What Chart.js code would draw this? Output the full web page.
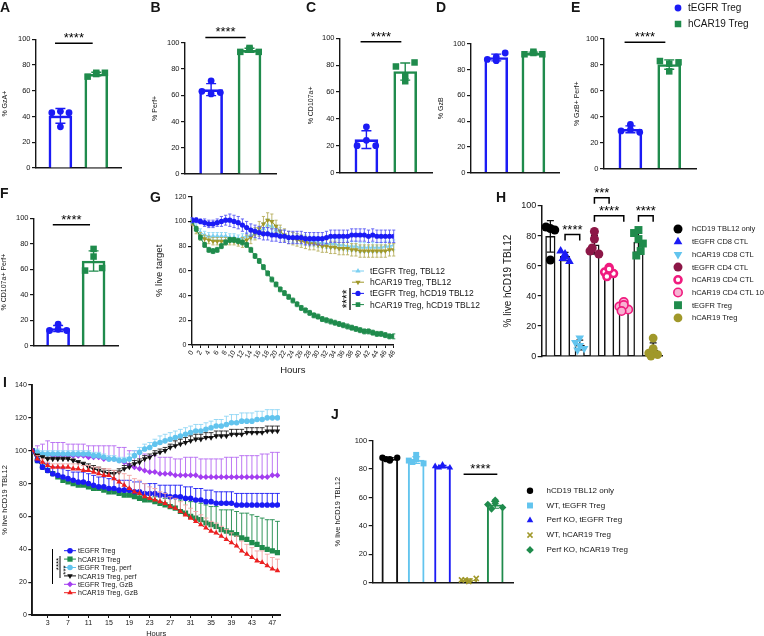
<!DOCTYPE html>
<html lang="en">
<head>
  <meta charset="UTF-8">
  <title>Treg cytotoxicity panels</title>
  <script src="https://cdn.jsdelivr.net/npm/chart.js"></script>
  <style>
    html, body { margin: 0; padding: 0; background: #fff; }
    #page { position: relative; width: 764px; height: 636px; overflow: hidden;
            font-family: "Liberation Sans", Arial, Helvetica, sans-serif; color: #161616; }
    #page canvas { position: absolute; }
    .letter { position: absolute; font-size: 14px; font-weight: bold; line-height: 1; }
    .leg { position: absolute; line-height: 1; white-space: nowrap; }
  </style>
</head>
<body>
<div id="page"></div>
<script>
// ---- values ----
const TOP_GROUPS = ['tEGFR Treg', 'hCAR19 Treg'];
const A_TEGFR = [43, 44, 43, 32];
const A_HCAR  = [71, 74, 74, 73];
const B_TEGFR = [63, 71, 62, 61];
const B_HCAR  = [93, 96, 93, 95];
const C_TEGFR = [20, 34, 20, 24];
const C_HCAR  = [79, 72, 82, 68];
const D_TEGFR = [88, 90, 93, 87];
const D_HCAR  = [92, 94, 92, 93];
const E_TEGFR = [29, 34, 28, 30];
const E_HCAR  = [83, 81, 82, 75];
const F_TEGFR = [12, 17, 12, 13];
const F_HCAR  = [59, 76, 61, 70];
const TOP_TITLES = ['% GzA+', '% Perf+', '% CD107a+', '% GzB', '% GzB+ Perf+', '% CD107a+ Perf+'];
const TOP_SIG = [97, 104, 97.5, null, 97.5, 95];

// G: % live target over 48 h
const G_HOURS = Array.from({ length: 49 }, (_, i) => i);
const G_LABELS = ['tEGFR Treg, TBL12', 'hCAR19 Treg, TBL12', 'tEGFR Treg, hCD19 TBL12', 'hCAR19 Treg, hCD19 TBL12'];
const G_TEGFR_TBL12 = [100, 95, 91, 89, 88, 88, 88, 88, 88, 87,
                       87, 86, 87, 88, 89, 90, 92, 94, 97, 96,
                       93, 91, 89, 88, 87, 86, 85, 85, 84, 84,
                       83, 83, 82, 82, 82, 81, 81, 80, 80, 80,
                       79, 79, 79, 79, 79, 79, 80, 80, 81];
const G_HCAR_TBL12  = [99, 93, 88, 86, 85, 84, 84, 84, 84, 84,
                       84, 83, 83, 85, 87, 90, 94, 98, 101, 100,
                       96, 92, 89, 87, 86, 85, 84, 83, 82, 82,
                       81, 80, 80, 79, 79, 78, 78, 78, 77, 77,
                       76, 76, 76, 76, 76, 76, 76, 77, 77];
const G_TEGFR_HCD19 = [101, 101, 100, 99, 98, 98, 99, 100, 101, 101,
                       100, 99, 97, 95, 93, 92, 91, 90, 90, 89,
                       89, 88, 88, 87, 87, 87, 87, 86, 86, 86,
                       86, 86, 87, 88, 88, 88, 88, 88, 89, 89,
                       89, 89, 88, 89, 88, 88, 88, 88, 88];
const G_HCAR_HCD19  = [100, 94, 87, 81, 77, 76, 77, 80, 83, 85,
                       85, 84, 83, 81, 77, 72, 68, 63, 58, 53,
                       49, 45, 42, 39, 36, 33, 30, 28, 26, 24,
                       23, 21, 20, 19, 18, 17, 16, 15, 14, 13,
                       12, 11, 11, 10, 9, 9, 8, 7, 7];
const G_TEGFR_TBL12_SD = [2, 3, 3, 3, 3, 3, 3, 3, 3, 3,
                          3, 3, 3, 3, 4, 4, 4, 5, 5, 5,
                          4, 4, 4, 4, 4, 4, 4, 4, 4, 4,
                          4, 4, 4, 4, 4, 4, 4, 4, 4, 4,
                          4, 4, 4, 4, 4, 4, 4, 4, 4];
const G_HCAR_TBL12_SD  = [2, 3, 3, 3, 3, 3, 3, 3, 3, 3,
                          3, 3, 4, 4, 5, 5, 6, 6, 6, 6,
                          5, 5, 5, 5, 5, 5, 5, 5, 5, 5,
                          5, 5, 5, 5, 5, 5, 5, 5, 5, 5,
                          5, 5, 5, 5, 5, 5, 5, 5, 5];
const G_TEGFR_HCD19_SD = [2, 2, 2, 3, 3, 3, 3, 4, 4, 5,
                          5, 5, 5, 5, 5, 5, 5, 5, 5, 5,
                          5, 5, 5, 5, 5, 5, 5, 5, 5, 5,
                          5, 5, 5, 5, 5, 5, 5, 5, 5, 5,
                          5, 5, 5, 5, 5, 5, 5, 5, 5];
const G_HCAR_HCD19_SD  = [1, 2, 2, 2, 2, 2, 2, 2, 2, 2,
                          2, 2, 2, 2, 2, 2, 2, 2, 2, 2,
                          2, 2, 2, 2, 2, 2, 2, 2, 2, 2,
                          2, 2, 2, 2, 2, 2, 2, 2, 2, 2,
                          2, 2, 2, 2, 2, 2, 2, 2, 2];

// H: % live hCD19 TBL12 per effector
const H_LABELS = ['hCD19 TBL12 only', 'tEGFR CD8 CTL', 'hCAR19 CD8 CTL', 'tEGFR CD4 CTL',
                  'hCAR19 CD4 CTL', 'hCAR19 CD4 CTL 10:1', 'tEGFR Treg', 'hCAR19 Treg'];
const H_ONLY       = [86, 85, 84, 64];
const H_TEGFR_CD8  = [70, 66, 63, 68, 65];
const H_HCAR_CD8   = [9, 12, 5, 7, 4];
const H_TEGFR_CD4  = [70, 83, 68, 78, 72];
const H_HCAR_CD4   = [56, 59, 55, 58, 53];
const H_HCAR_CD4_10 = [33, 36, 31, 34, 30];
const H_TEGFR_TREG = [82, 84, 75, 78, 67, 70];
const H_HCAR_TREG  = [2, 12, 1, 5, 0];

// I: % live hCD19 TBL12 with perforin / GzB knockouts
const I_HOURS = Array.from({ length: 49 }, (_, i) => i);
const I_TICKS = [3, 7, 11, 15, 19, 23, 27, 31, 35, 39, 43, 47];
const I_LABELS = ['tEGFR Treg', 'hCAR19 Treg', 'tEGFR Treg, perf', 'hCAR19 Treg, perf', 'tEGFR Treg, GzB', 'hCAR19 Treg, GzB'];
const I_TEGFR = [100, 94, 90, 88, 86, 85, 84, 83, 82, 81,
                 81, 80, 79, 78, 78, 77, 77, 76, 76, 76,
                 75, 75, 74, 74, 74, 73, 73, 72, 72, 72,
                 71, 71, 70, 70, 69, 69, 68, 68, 68, 68,
                 67, 67, 67, 67, 67, 67, 67, 67, 67];
const I_HCAR = [100, 94, 90, 88, 86, 84, 82, 81, 80, 79,
                79, 78, 77, 77, 76, 75, 75, 74, 73, 73,
                72, 71, 70, 70, 69, 68, 67, 66, 65, 63,
                62, 60, 59, 58, 56, 55, 54, 52, 51, 50,
                49, 47, 46, 44, 43, 41, 40, 39, 38];
const I_TEGFR_PERF = [100, 99, 98, 98, 98, 98, 98, 98, 98, 98,
                      98, 98, 97, 97, 96, 95, 95, 94, 94, 95,
                      97, 99, 101, 102, 104, 105, 106, 107, 108, 109,
                      110, 111, 112, 112, 113, 114, 115, 115, 116, 117,
                      117, 118, 118, 118, 119, 119, 120, 120, 120];
const I_HCAR_PERF = [100, 97, 96, 95, 95, 95, 95, 95, 94, 93,
                     92, 90, 89, 88, 87, 86, 86, 87, 89, 90,
                     92, 93, 95, 96, 98, 99, 100, 102, 103, 104,
                     105, 106, 107, 107, 108, 108, 109, 109, 109, 110,
                     110, 110, 111, 111, 111, 111, 112, 112, 112];
const I_TEGFR_GZB = [100, 99, 98, 98, 97, 97, 97, 97, 97, 97,
                     97, 96, 96, 96, 95, 95, 95, 94, 93, 91,
                     90, 89, 88, 87, 87, 86, 86, 86, 85, 85,
                     85, 85, 85, 84, 84, 84, 84, 84, 84, 84,
                     84, 84, 84, 84, 84, 84, 84, 85, 85];
const I_HCAR_GZB = [100, 95, 93, 91, 90, 90, 90, 90, 89, 89,
                    88, 88, 87, 86, 85, 85, 83, 81, 79, 77,
                    75, 74, 72, 71, 70, 69, 68, 66, 65, 63,
                    61, 59, 57, 55, 53, 51, 50, 48, 46, 44,
                    42, 39, 37, 35, 33, 32, 30, 28, 27];
const I_TEGFR_SD = [0, 2, 3, 4, 4, 5, 5, 5, 5, 6,
                    6, 6, 6, 6, 6, 6, 6, 6, 6, 6,
                    6, 6, 6, 6, 6, 6, 6, 7, 7, 7,
                    7, 7, 7, 7, 7, 7, 7, 7, 7, 7,
                    7, 7, 7, 7, 7, 7, 7, 7, 7];
const I_HCAR_SD = [0, 1, 1, 1, 1, 1, 1, 1, 1, 1,
                   1, 1, 1, 1, 1, 1, 1, 2, 2, 2,
                   2, 2, 2, 3, 3, 4, 4, 5, 6, 7,
                   8, 9, 10, 10, 11, 11, 12, 12, 13, 14,
                   14, 15, 16, 17, 17, 18, 18, 19, 19];
const I_TEGFR_PERF_SD = [0, 2, 2, 2, 2, 2, 2, 2, 2, 2,
                         2, 2, 2, 2, 2, 2, 2, 2, 2, 3,
                         3, 3, 3, 3, 3, 4, 4, 4, 4, 4,
                         4, 4, 4, 4, 4, 4, 4, 4, 5, 5,
                         5, 5, 5, 5, 5, 5, 5, 5, 5];
const I_HCAR_PERF_SD = [0, 1, 1, 1, 1, 1, 1, 1, 1, 1,
                        1, 2, 2, 2, 2, 2, 2, 2, 2, 2,
                        2, 2, 2, 2, 2, 2, 2, 2, 3, 3,
                        3, 3, 3, 3, 3, 3, 3, 3, 3, 3,
                        3, 3, 3, 3, 3, 3, 3, 3, 3];
const I_TEGFR_GZB_SD = [0, 4, 6, 8, 8, 8, 8, 7, 7, 7,
                        7, 7, 7, 7, 8, 8, 8, 8, 9, 9,
                        10, 10, 10, 10, 10, 10, 10, 10, 10, 10,
                        11, 11, 11, 11, 11, 11, 11, 11, 12, 12,
                        12, 13, 13, 13, 13, 14, 14, 14, 14];
const I_HCAR_GZB_SD = [0, 2, 2, 2, 2, 2, 2, 2, 3, 3,
                       3, 3, 3, 4, 4, 4, 5, 6, 7, 8,
                       8, 8, 8, 7, 7, 6, 6, 6, 6, 6,
                       6, 6, 6, 6, 6, 6, 6, 6, 6, 6,
                       6, 6, 6, 6, 6, 7, 7, 7, 7];

// J: perforin KO
const J_LABELS = ['hCD19 TBL12 only', 'WT, tEGFR Treg', 'Perf KO, tEGFR Treg', 'WT, hCAR19 Treg', 'Perf KO, hCAR19 Treg'];
const J_ONLY          = [88, 87, 88, 86, 87];
const J_WT_TEGFR      = [86, 90, 84, 87, 85];
const J_KO_TEGFR      = [82, 83, 81, 82, 81];
const J_WT_HCAR       = [2, 1, 3, 1, 2];
const J_KO_HCAR       = [55, 58, 53, 56, 52];

// ---- drawing ----
const FONT = '"Liberation Sans", Arial, Helvetica, sans-serif';
const INK = '#161616';
const BLUE = '#1b1bf5', GREEN = '#1f8b4c', LBLUE = '#62c4ee', OLIVE = '#a0982a',
      PURPLE = '#a33df0', RED = '#ee1f1f', MAROON = '#8c1747', PINK = '#f01b7f';
Chart.defaults.font.family = FONT;
Chart.defaults.color = INK;

const page = document.getElementById('page');
const JIT = [-1, 0, 1, 0, -0.5, 0.5];

function mean(a) { return a.reduce((s, v) => s + v, 0) / a.length; }
function sdev(a) {
  const m = mean(a);
  return Math.sqrt(a.reduce((s, v) => s + (v - m) * (v - m), 0) / (a.length - 1));
}

// canvas placed so that the plot area lands on box (page px)
function mount(box, titleX, titleSize, padT, padR, padB) {
  const left = Math.round(titleX - titleSize * 0.6);
  const top = Math.round(box.t - padT);
  const w = Math.round(box.r + padR - left);
  const h = Math.round(box.b + padB - top);
  const c = document.createElement('canvas');
  c.width = w; c.height = h;
  c.style.left = left + 'px'; c.style.top = top + 'px';
  page.appendChild(c);
  return { canvas: c, l: box.l - left, t: box.t - top, r: w - (box.r - left), b: h - (box.b - top) };
}

function baseOptions(m) {
  return {
    responsive: false, animation: false, devicePixelRatio: 1, events: [],
    layout: { padding: { top: m.t, right: m.r, left: 0, bottom: 0 } },
    plugins: { legend: { display: false }, tooltip: { enabled: false } }
  };
}

function yScale(m, o) {
  return {
    type: 'linear', min: o.min, max: o.max,
    afterFit: s => { s.width = m.l; },
    ticks: { stepSize: o.step, color: INK, font: { size: o.tick }, padding: 1.5 },
    grid: { drawOnChartArea: false, tickLength: 4, color: INK, lineWidth: 1.2 },
    border: { color: INK, width: o.axisW || 1.4 },
    title: { display: true, text: o.title, color: INK, font: { size: o.titleSize }, padding: 0 }
  };
}

function flatX(m, min, max) {
  return {
    type: 'linear', min: min, max: max, offset: false,
    afterFit: s => { s.height = m.b; },
    ticks: { display: false }, grid: { display: false },
    border: { color: INK, width: 1.4 }
  };
}

function dotBarPanel(p) {
  const m = mount(p.box, p.titleX, p.titleSize, p.padT, p.padR, p.padB);
  const datasets = [{
    type: 'bar', order: 9,
    data: p.groups.map((g, i) => ({ x: i, y: mean(g.pts) })),
    backgroundColor: '#fff',
    borderColor: p.groups.map(g => g.bar),
    borderWidth: p.barBorder, barThickness: p.barW
  }];
  p.groups.forEach((g, i) => {
    datasets.push({
      type: 'scatter', order: 1, clip: false,
      data: g.pts.map((v, k) => ({ x: i + JIT[k % JIT.length] * p.jit, y: v })),
      pointStyle: g.mk.style, pointRotation: g.mk.rot || 0, pointRadius: g.mk.r,
      backgroundColor: g.mk.fill, borderColor: g.mk.edge || g.mk.fill, borderWidth: g.mk.bw || 0
    });
  });
  const marks = {
    id: 'marks',
    afterDatasetDraw(chart, args) {
      if (args.index !== 0) return;
      const ctx = chart.ctx, xs = chart.scales.x, ys = chart.scales.y;
      ctx.save();
      ctx.lineWidth = p.errW;
      p.groups.forEach((g, i) => {
        const mu = mean(g.pts), s = sdev(g.pts);
        const px = xs.getPixelForValue(i);
        const yt = ys.getPixelForValue(mu + s), yb = ys.getPixelForValue(Math.max(0, mu - s));
        ctx.strokeStyle = g.bar;
        ctx.beginPath();
        ctx.moveTo(px, yt); ctx.lineTo(px, yb);
        ctx.moveTo(px - p.cap, yt); ctx.lineTo(px + p.cap, yt);
        ctx.moveTo(px - p.cap, yb); ctx.lineTo(px + p.cap, yb);
        ctx.stroke();
      });
      ctx.restore();
    },
    afterDraw(chart) {
      const ctx = chart.ctx, xs = chart.scales.x, ys = chart.scales.y;
      ctx.save();
      ctx.strokeStyle = '#000'; ctx.fillStyle = '#000'; ctx.lineWidth = 1.5;
      ctx.font = p.starSize + 'px ' + FONT;
      ctx.textAlign = 'center'; ctx.textBaseline = 'alphabetic';
      p.sig.forEach(s => {
        const x1 = xs.getPixelForValue(s.x1), x2 = xs.getPixelForValue(s.x2), y = ys.getPixelForValue(s.y);
        ctx.beginPath();
        if (s.legs) { ctx.moveTo(x1, y + s.legs); ctx.lineTo(x1, y); ctx.lineTo(x2, y); ctx.lineTo(x2, y + s.legs); }
        else { ctx.moveTo(x1, y); ctx.lineTo(x2, y); }
        ctx.stroke();
        ctx.fillText(s.text, (x1 + x2) / 2, y - 1);
      });
      ctx.restore();
    }
  };
  new Chart(m.canvas, {
    type: 'bar',
    data: { datasets: datasets },
    options: Object.assign(baseOptions(m), {
      scales: {
        x: flatX(m, p.xMin, p.xMax),
        y: yScale(m, { min: 0, max: 100, step: 20, tick: p.tick, title: p.title, titleSize: p.titleSize, axisW: p.axisW })
      }
    }),
    plugins: [marks]
  });
}

function seriesPanel(p) {
  const m = mount(p.box, p.titleX, p.titleSize, p.padT, p.padR, p.padB);
  const datasets = p.series.map(s => ({
    type: 'line', order: s.order,
    data: p.hours.map((h, k) => ({ x: h, y: s.vals[k] })),
    borderColor: s.line || s.mk.fill, borderWidth: p.lineW,
    pointStyle: s.mk.style, pointRotation: s.mk.rot || 0, pointRadius: s.mk.r,
    pointBackgroundColor: s.mk.fill, pointBorderWidth: 0, tension: 0, fill: false
  }));
  const errs = {
    id: 'errs',
    beforeDatasetDraw(chart, args) {
      const s = p.series[args.index];
      const ctx = chart.ctx, xs = chart.scales.x, ys = chart.scales.y;
      ctx.save();
      ctx.strokeStyle = s.err; ctx.lineWidth = 0.9;
      ctx.beginPath();
      p.hours.forEach((h, k) => {
        const d = s.sd[k];
        if (!d) return;
        const px = xs.getPixelForValue(h), v = s.vals[k];
        const yt = ys.getPixelForValue(v + d);
        const yb = ys.getPixelForValue(p.both ? v - d : v);
        ctx.moveTo(px, yt); ctx.lineTo(px, yb);
        ctx.moveTo(px - p.cap, yt); ctx.lineTo(px + p.cap, yt);
        if (p.both) { ctx.moveTo(px - p.cap, yb); ctx.lineTo(px + p.cap, yb); }
      });
      ctx.stroke();
      ctx.restore();
    }
  };
  new Chart(m.canvas, {
    type: 'line',
    data: { datasets: datasets },
    options: Object.assign(baseOptions(m), {
      scales: { x: p.xScale(m), y: yScale(m, p.y) }
    }),
    plugins: [errs]
  });
}

// ---- A-F ----
const TOP_PTS = [[A_TEGFR, A_HCAR], [B_TEGFR, B_HCAR], [C_TEGFR, C_HCAR],
                 [D_TEGFR, D_HCAR], [E_TEGFR, E_HCAR], [F_TEGFR, F_HCAR]];
const TOP_BOX = [
  { box: { l: 36, t: 39.3, r: 122, b: 168.3 }, titleX: 5.5 },
  { box: { l: 185, t: 42.7, r: 277, b: 174 }, titleX: 155 },
  { box: { l: 340, t: 38.3, r: 433, b: 172.5 }, titleX: 311 },
  { box: { l: 471, t: 44, r: 560, b: 172.5 }, titleX: 441.5 },
  { box: { l: 604, t: 39, r: 697, b: 168.5 }, titleX: 577 },
  { box: { l: 34, t: 218.3, r: 119.3, b: 345.8 }, titleX: 4.5 }
];
const MK_TEGFR = { style: 'circle', r: 3.4, fill: BLUE };
const MK_HCAR = { style: 'rect', r: 4.6, fill: GREEN };

TOP_BOX.forEach((L, i) => {
  dotBarPanel({
    box: L.box, titleX: L.titleX, titleSize: 7, tick: 7.5, title: TOP_TITLES[i],
    padT: 22, padR: 4, padB: 6, xMin: -0.68, xMax: 1.7,
    barW: 23, barBorder: 2.6, errW: 1.4, cap: 5, jit: 0.24, starSize: 13,
    groups: [{ pts: TOP_PTS[i][0], bar: BLUE, mk: MK_TEGFR }, { pts: TOP_PTS[i][1], bar: GREEN, mk: MK_HCAR }],
    sig: TOP_SIG[i] === null ? [] : [{ x1: -0.15, x2: 0.9, y: TOP_SIG[i], text: '****' }]
  });
});

// ---- G ----
const G_MARKS = [
  { style: 'triangle', r: 3, fill: '#7cd0f2' },
  { style: 'triangle', rot: 180, r: 3, fill: OLIVE },
  { style: 'circle', r: 2.6, fill: BLUE },
  { style: 'rect', r: 3.3, fill: GREEN }
];
seriesPanel({
  box: { l: 192, t: 196.7, r: 396, b: 345 }, titleX: 160, titleSize: 9.5,
  padT: 8, padR: 6, padB: 31.4, hours: G_HOURS, lineW: 1, cap: 1.6, both: true,
  y: { min: 0, max: 120, step: 20, tick: 7, title: '% live target', titleSize: 9.5 },
  xScale: m => ({
    type: 'linear', min: 0, max: 48,
    afterFit: s => { s.height = m.b; },
    ticks: { stepSize: 2, autoSkip: false, minRotation: 60, maxRotation: 60, color: INK, font: { size: 7 }, padding: 1 },
    grid: { drawOnChartArea: false, tickLength: 3, color: INK, lineWidth: 1 },
    border: { color: INK, width: 1.4 },
    title: { display: true, text: 'Hours', color: INK, font: { size: 9.5 }, padding: 0 }
  }),
  series: [
    { vals: G_TEGFR_TBL12, sd: G_TEGFR_TBL12_SD, mk: G_MARKS[0], err: '#8fd8f5', order: 4 },
    { vals: G_HCAR_TBL12, sd: G_HCAR_TBL12_SD, mk: G_MARKS[1], err: '#b8b060', order: 3 },
    { vals: G_TEGFR_HCD19, sd: G_TEGFR_HCD19_SD, mk: G_MARKS[2], err: '#5a5af5', order: 1 },
    { vals: G_HCAR_HCD19, sd: G_HCAR_HCD19_SD, mk: G_MARKS[3], err: GREEN, order: 2 }
  ]
});

// ---- H ----
const H_PTS = [H_ONLY, H_TEGFR_CD8, H_HCAR_CD8, H_TEGFR_CD4, H_HCAR_CD4, H_HCAR_CD4_10, H_TEGFR_TREG, H_HCAR_TREG];
const H_MARKS = [
  { style: 'circle', r: 4.5, fill: '#000' },
  { style: 'triangle', r: 5, fill: BLUE },
  { style: 'triangle', rot: 180, r: 5, fill: LBLUE },
  { style: 'circle', r: 4.5, fill: MAROON },
  { style: 'circle', r: 3.5, fill: '#fff', edge: PINK, bw: 2.6 },
  { style: 'circle', r: 4.2, fill: '#f7b2d2', edge: PINK, bw: 1.6 },
  { style: 'rect', r: 5.6, fill: GREEN },
  { style: 'circle', r: 4.4, fill: OLIVE }
];
dotBarPanel({
  box: { l: 541.7, t: 206, r: 665, b: 357 }, titleX: 507.5, titleSize: 10, tick: 9,
  title: '% live hCD19 TBL12', padT: 22, padR: 4, padB: 6, xMin: -0.59, xMax: 7.63,
  barW: 9.5, barBorder: 1.5, errW: 1.3, cap: 3.5, jit: 0.3, starSize: 13, axisW: 1.5,
  groups: H_PTS.map((pts, i) => ({ pts: pts, bar: '#111', mk: H_MARKS[i] })),
  sig: [
    { x1: 3, x2: 4, y: 105.5, text: '***', legs: 6 },
    { x1: 3, x2: 5, y: 93.5, text: '****', legs: 6 },
    { x1: 6, x2: 7, y: 93.5, text: '****', legs: 6 },
    { x1: 1, x2: 2, y: 81, text: '****', legs: 6 }
  ]
});

// ---- I ----
const I_MARKS = [
  { style: 'circle', r: 2.8, fill: BLUE },
  { style: 'rect', r: 3.7, fill: GREEN },
  { style: 'circle', r: 2.8, fill: LBLUE },
  { style: 'triangle', rot: 180, r: 3.2, fill: '#111' },
  { style: 'rectRot', r: 3, fill: PURPLE },
  { style: 'triangle', r: 3.2, fill: RED }
];
seriesPanel({
  box: { l: 32.3, t: 385, r: 280, b: 615 }, titleX: 4.5, titleSize: 7.5,
  padT: 8, padR: 6, padB: 22.5, hours: I_HOURS, lineW: 1, cap: 2.4, both: false,
  y: { min: 0, max: 140, step: 20, tick: 7, title: '% live hCD19 TBL12', titleSize: 7.5, axisW: 1.9 },
  xScale: m => ({
    type: 'linear', min: 0, max: 48.5,
    afterFit: s => { s.height = m.b; },
    afterBuildTicks: s => { s.ticks = I_TICKS.map(v => ({ value: v })); },
    ticks: { autoSkip: false, minRotation: 0, maxRotation: 0, color: INK, font: { size: 7 }, padding: 1 },
    grid: { drawOnChartArea: false, tickLength: 3, color: INK, lineWidth: 1 },
    border: { color: INK, width: 1.9 },
    title: { display: true, text: 'Hours', color: INK, font: { size: 7.5 }, padding: 0 }
  }),
  series: [
    { vals: I_TEGFR, sd: I_TEGFR_SD, mk: I_MARKS[0], err: BLUE, order: 2 },
    { vals: I_HCAR, sd: I_HCAR_SD, mk: I_MARKS[1], err: GREEN, order: 3 },
    { vals: I_TEGFR_PERF, sd: I_TEGFR_PERF_SD, mk: I_MARKS[2], err: '#8ed6f5', order: 5 },
    { vals: I_HCAR_PERF, sd: I_HCAR_PERF_SD, mk: I_MARKS[3], err: '#222', order: 4 },
    { vals: I_TEGFR_GZB, sd: I_TEGFR_GZB_SD, mk: I_MARKS[4], err: '#b56af2', order: 6 },
    { vals: I_HCAR_GZB, sd: I_HCAR_GZB_SD, mk: I_MARKS[5], err: '#f3a3a3', line: '#c21d1d', order: 1 }
  ]
});

// ---- J ----
const J_PTS = [J_ONLY, J_WT_TEGFR, J_KO_TEGFR, J_WT_HCAR, J_KO_HCAR];
const J_BARS = ['#111', LBLUE, BLUE, OLIVE, GREEN];
const J_MARKS = [
  { style: 'circle', r: 3.2, fill: '#000' },
  { style: 'rect', r: 4.2, fill: LBLUE },
  { style: 'triangle', r: 3.8, fill: BLUE },
  { style: 'crossRot', r: 3.6, fill: OLIVE, edge: OLIVE, bw: 1.6 },
  { style: 'rectRot', r: 3.8, fill: GREEN }
];
dotBarPanel({
  box: { l: 372.7, t: 440.7, r: 515, b: 582.7 }, titleX: 337.5, titleSize: 7.5, tick: 7.5,
  title: '% live hCD19 TBL12', padT: 10, padR: 4, padB: 6, xMin: -0.65, xMax: 4.69,
  barW: 16, barBorder: 2, errW: 1.2, cap: 4, jit: 0.28, starSize: 13,
  groups: J_PTS.map((pts, i) => ({ pts: pts, bar: J_BARS[i], mk: J_MARKS[i] })),
  sig: [{ x1: 2.8, x2: 4.08, y: 76.3, text: '****' }]
});

// ---- legends, letters, vertical stars ----
const overlay = document.createElement('canvas');
overlay.width = 764; overlay.height = 636;
overlay.style.left = '0px'; overlay.style.top = '0px';
page.appendChild(overlay);
const octx = overlay.getContext('2d');

function marker(mk, x, y) {
  octx.save();
  octx.fillStyle = mk.fill; octx.strokeStyle = mk.edge || mk.fill; octx.lineWidth = mk.bw || 0;
  if (Chart.helpers && Chart.helpers.drawPoint) {
    Chart.helpers.drawPoint(octx, { pointStyle: mk.style, rotation: mk.rot || 0, radius: mk.r, borderWidth: mk.bw || 0 }, x, y);
  } else {
    octx.beginPath(); octx.arc(x, y, mk.r, 0, Math.PI * 2); octx.fill();
  }
  octx.restore();
}

function label(str, x, y, size) {
  const d = document.createElement('div');
  d.className = 'leg';
  d.style.left = x + 'px';
  d.style.top = (y - size * 0.48) + 'px';
  d.style.fontSize = size + 'px';
  d.textContent = str;
  page.appendChild(d);
}

function legend(labels, marks, o) {
  labels.forEach((lab, i) => {
    const y = o.y0 + i * o.dy;
    if (o.line) {
      octx.strokeStyle = marks[i].fill; octx.lineWidth = 1;
      octx.beginPath(); octx.moveTo(o.mx - o.line, y); octx.lineTo(o.mx + o.line, y); octx.stroke();
    }
    marker(marks[i], o.mx, y);
    label(lab, o.tx, y, o.size);
  });
}

legend(TOP_GROUPS, [MK_TEGFR, MK_HCAR], { mx: 678, tx: 688, y0: 8, dy: 16, size: 10 });
legend(G_LABELS, G_MARKS, { mx: 358, tx: 370, y0: 271, dy: 11.2, size: 8.5, line: 6 });
legend(H_LABELS, H_MARKS, { mx: 678, tx: 692, y0: 229, dy: 12.7, size: 7.5 });
legend(I_LABELS, I_MARKS, { mx: 70, tx: 78, y0: 550.7, dy: 8.4, size: 7, line: 6 });
legend(J_LABELS, J_MARKS, { mx: 530, tx: 546.5, y0: 490.7, dy: 14.8, size: 8 });

function vStars(text, x, y, size) {
  octx.save();
  octx.translate(x, y); octx.rotate(-Math.PI / 2);
  octx.fillStyle = '#000'; octx.font = size + 'px ' + FONT;
  octx.textAlign = 'center'; octx.textBaseline = 'alphabetic';
  octx.fillText(text, 0, size * 0.56);
  octx.restore();
}
function vLine(x, y1, y2, w) {
  octx.strokeStyle = '#000'; octx.lineWidth = w;
  octx.beginPath(); octx.moveTo(x, y1); octx.lineTo(x, y2); octx.stroke();
}
vStars('****', 344, 299, 12);
vLine(350, 288, 310, 1.3);
vLine(52.5, 549, 584, 1);
vStars('****', 56.5, 564, 8);
vLine(60, 556, 578, 1);
vStars('***', 63.5, 570, 8);

const LETTERS = [['A', 0, 0], ['B', 150.5, 0], ['C', 306, 0], ['D', 436, 0], ['E', 571, 0],
                 ['F', 0, 186], ['G', 150, 190], ['H', 496, 190], ['I', 3, 375], ['J', 331, 407]];
LETTERS.forEach(([t, x, y]) => {
  const d = document.createElement('div');
  d.className = 'letter';
  d.style.left = x + 'px'; d.style.top = y + 'px';
  d.textContent = t;
  page.appendChild(d);
});
</script>
</body>
</html>
